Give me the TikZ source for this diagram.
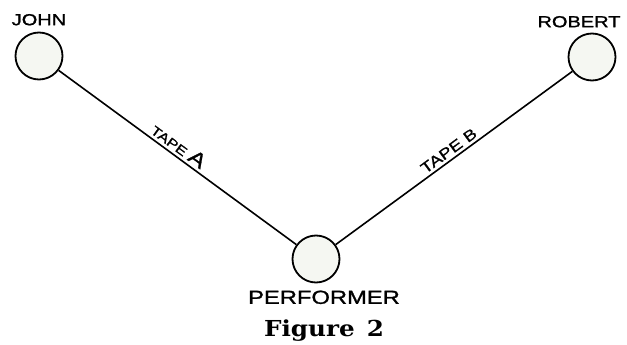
\documentclass[tikz,border=0pt]{standalone}
\usepackage{fontspec}
\newfontfamily\handfont[FakeStretch=1.25, FakeBold=1.2]{Liberation Sans}
\newfontfamily\capfont[FakeStretch=1.12]{DejaVu Serif}
\usetikzlibrary{positioning}
\definecolor{diskfill}{HTML}{F5F7F2}

\begin{document}
\begin{tikzpicture}[
    x=1pt, y=-1pt,
    node distance=6pt,
    person/.style={draw, circle, line width=1.8pt, fill=diskfill, minimum size=47pt, inner sep=0pt},
    who/.style={inner sep=0pt, font=\handfont\fontsize{16}{16}\selectfont},
    tape/.style={inner sep=3pt, font=\handfont\fontsize{13}{13}\selectfont},
    wire/.style={line width=1.6pt}
]
\useasboundingbox (0,0) rectangle (627,345);

\node[person] (john) at (39,56) {};
\node[person] (robert) at (592,57) {};
\node[person] (performer) at (316,259) {};

\node[who, above=6pt of john] (johnname) {JOHN};
\node[who, above=5pt of robert, xshift=-13pt] (robertname) {ROBERT};
\node[who, below=7pt of performer, xshift=8pt, font=\handfont\fontsize{19}{19}\selectfont] (performername) {PERFORMER};
\node[below=15pt of performername, inner sep=0pt, font=\capfont\bfseries\fontsize{22}{22}\selectfont] (caption) {Figure\hspace{0.55em}2};

\draw[wire] (john) -- node[tape, sloped, above, pos=0.48] {TAPE {\fontsize{20}{20}\selectfont A}} (performer);
\draw[wire] (performer) -- node[tape, sloped, above, pos=0.5, font=\handfont\fontsize{15}{15}\selectfont] {TAPE B} (robert);
\end{tikzpicture}
\end{document}
